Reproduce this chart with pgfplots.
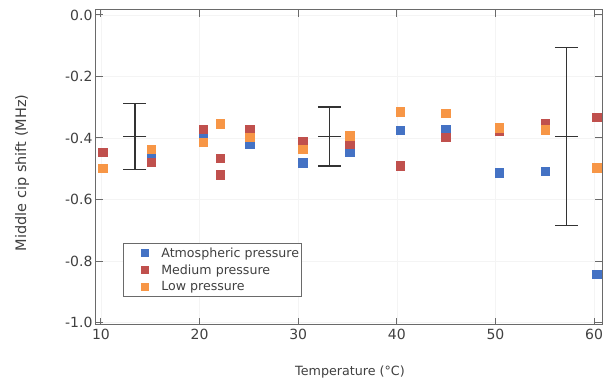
\documentclass[border=0pt]{standalone}
\usepackage{pgfplots}
\pgfplotsset{compat=1.18}
\usepackage{fontspec}
\setmainfont{DejaVu Sans}
\definecolor{cblue}{HTML}{4472C4}
\definecolor{cred}{HTML}{C0504D}
\definecolor{corange}{HTML}{F79646}
\definecolor{axgray}{HTML}{6A6A6A}
\begin{document}
\begin{tikzpicture}
\begin{axis}[
  set layers,
  scale only axis,
  width=506pt, height=315pt,
  xmin=9.5, xmax=60.8,
  ymin=-1.008, ymax=0.016,
  xtick={10,20,30,40,50,60},
  ytick={-1.0,-0.8,-0.6,-0.4,-0.2,0.0},
  yticklabels={-1.0,-0.8,-0.6,-0.4,-0.2,0.0},
  xticklabels={10,20,30,40,50,60},
  tick align=inside,
  major tick length=7pt,
  tick style={axgray, line width=1pt},
  axis line style={axgray, line width=1pt},
  grid=major,
  major grid style={gray!9, line width=0.6pt},
  tick label style={font=\fontsize{14}{16}\selectfont, text=black!75},
  xticklabel style={yshift=-1pt},
  xlabel={Temperature (°C)},
  ylabel={Middle cip shift (MHz)},
  xlabel style={at={(axis description cs:0.502,-0.149)}, anchor=center, font=\fontsize{12.7}{15}\selectfont, text=black!75},
  ylabel style={at={(axis description cs:-0.146,0.483)}, anchor=center, font=\fontsize{14.5}{16}\selectfont, text=black!75},
  legend style={at={(0.0534,0.260)}, anchor=north west, draw=axgray, line width=0.9pt,
    font=\fontsize{12.6}{14}\selectfont, text=black!75, row sep=4.8pt, inner xsep=0pt, inner ysep=3.8pt,
    nodes={inner xsep=2pt, inner ysep=0.5pt}},
  legend cell align=left,
  legend image code/.code={\path (0pt,0pt) (35pt,0pt); \draw[#1, mark size=3.4pt] plot coordinates {(21pt,0pt)};},
]
\addplot[only marks, mark=square*, mark size=4.2pt, mark options={fill=cblue, draw=cblue, line width=0pt}]
coordinates {
(15.1,-0.458) (20.4,-0.390) (25.1,-0.419) (30.5,-0.482) (35.25,-0.446)
(40.4,-0.376) (45.0,-0.374) (50.4,-0.514) (55.1,-0.509) (60.3,-0.843)
};
\addlegendentry{Atmospheric pressure}
\addplot[only marks, mark=square*, mark size=4.2pt, mark options={fill=cred, draw=cred, line width=0pt}]
coordinates {
(10.2,-0.447) (15.1,-0.480) (20.4,-0.372) (22.1,-0.467) (22.1,-0.520) (25.1,-0.372)
(30.5,-0.412) (35.25,-0.420) (40.4,-0.491) (45.0,-0.398) (50.4,-0.377)
(55.1,-0.352) (60.3,-0.334)
};
\addlegendentry{Medium pressure}
\addplot[only marks, mark=square*, mark size=4.2pt, mark options={fill=corange, draw=corange, line width=0pt}]
coordinates {
(10.2,-0.500) (15.1,-0.437) (20.4,-0.415) (22.1,-0.355) (25.1,-0.398)
(30.5,-0.437) (35.25,-0.393) (40.4,-0.315) (45.0,-0.320) (50.4,-0.368)
(55.1,-0.374) (60.3,-0.498)
};
\addlegendentry{Low pressure}
\addplot[forget plot, only marks, mark=-, mark size=11.5pt, color=black!80, line width=1.3pt,
  error bars/.cd, y dir=both, y explicit,
  error bar style={line width=1.3pt, black!80},
  error mark options={mark size=11.5pt, line width=1.3pt, black!80, rotate=90}]
coordinates {
(13.45,-0.395) +- (0,0.108)
(33.15,-0.395) +- (0,0.096)
(57.2,-0.395) +- (0,0.290)
};
\end{axis}
\pgfresetboundingbox
\path ([xshift=-96pt,yshift=-58pt]current axis.south west) rectangle ([xshift=1pt,yshift=10pt]current axis.north east);
\end{tikzpicture}
\end{document}
